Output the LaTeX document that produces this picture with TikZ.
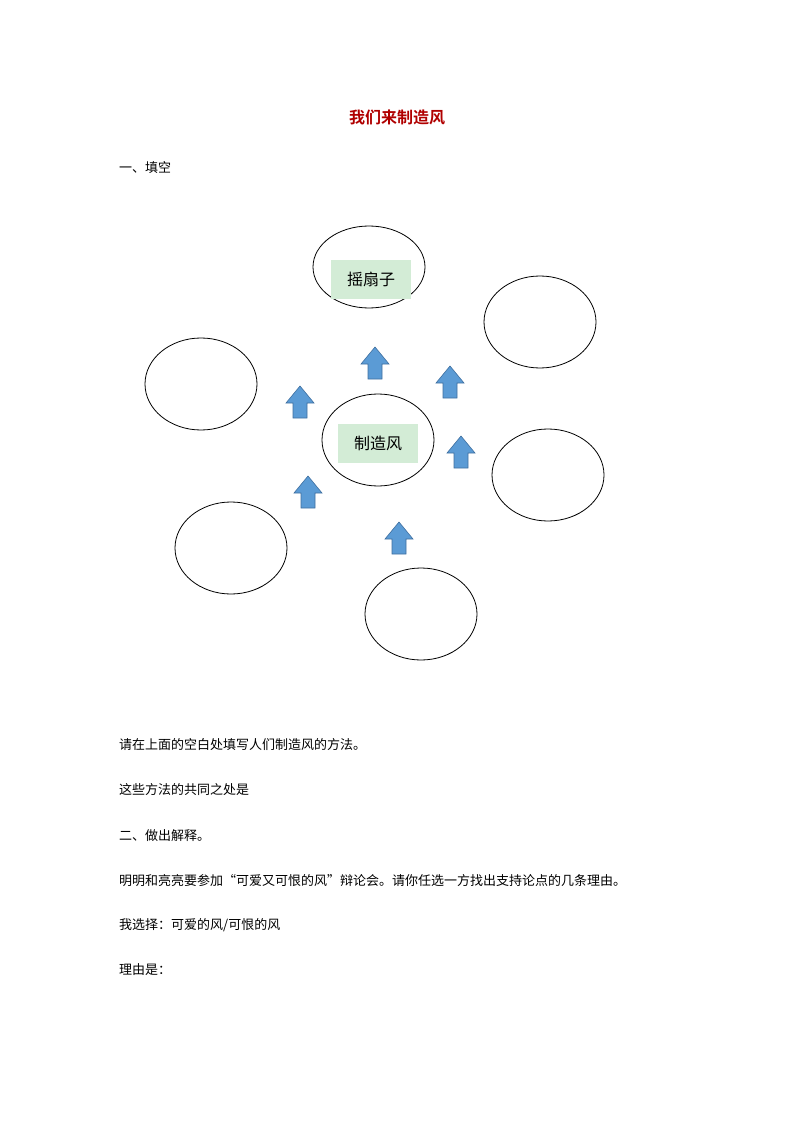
\documentclass[tikz,border=0pt]{standalone}
\usepackage{fontspec}
\usetikzlibrary{shapes.geometric}
\setmainfont{Noto Sans CJK SC}
\newfontfamily\cjkb{Noto Sans CJK SC Bold}
\definecolor{ttl}{HTML}{B00000}
\definecolor{gbox}{HTML}{D3ECD6}
\definecolor{afill}{HTML}{5B9BD5}
\definecolor{aline}{HTML}{3F6F9F}
\begin{document}
\begin{tikzpicture}[x=1pt,y=-1pt,
  oval/.style={draw,ellipse,minimum width=112pt,minimum height=92pt,line width=0.8pt},
  lbl/.style={fill=gbox,minimum width=80pt,minimum height=39pt,inner sep=0pt,font=\fontsize{16}{16}\selectfont},
  txt/.style={anchor=west,inner sep=0pt,font=\fontsize{13}{13}\selectfont}]
\useasboundingbox (0,0) rectangle (794,1123);
\tikzset{uparrow/.pic={\draw[fill=afill,draw=aline,line width=0.6pt]
 (-7,16)--(-7,1)--(-14,1)--(0,-16)--(14,1)--(7,1)--(7,16)--cycle;}}
\node[font=\cjkb\fontsize{16}{16}\selectfont,text=ttl] (title) at (397,117) {我们来制造风};
\node[txt] (t1) at (119,168) {一、填空};
\node[oval,minimum height=82pt] (top) at (369,267) {};
\node[oval] (rt) at (540,322) {};
\node[oval] (lt) at (201,384) {};
\node[oval] (ctr) at (378,440) {};
\node[oval] (rr) at (548,475) {};
\node[oval] (ll) at (231,548) {};
\node[oval] (bt) at (421,614) {};
\node[lbl] (l1) at (371,279) {摇扇子};
\node[lbl] (l2) at (378,443) {制造风};
\pic at (375,363) {uparrow};
\pic at (300,402) {uparrow};
\pic at (450,382) {uparrow};
\pic at (461,452) {uparrow};
\pic at (308,492) {uparrow};
\pic at (399,538) {uparrow};
\node[txt] (t2) at (119,745) {请在上面的空白处填写人们制造风的方法。};
\node[txt] (t3) at (119,790) {这些方法的共同之处是};
\node[txt] (t4) at (119,836) {二、做出解释。};
\node[txt] (t5) at (119,881) {明明和亮亮要参加“可爱又可恨的风”辩论会。请你任选一方找出支持论点的几条理由。};
\node[txt] (t6) at (119,925) {我选择：可爱的风/可恨的风};
\node[txt] (t7) at (119,970) {理由是：};
\end{tikzpicture}
\end{document}
